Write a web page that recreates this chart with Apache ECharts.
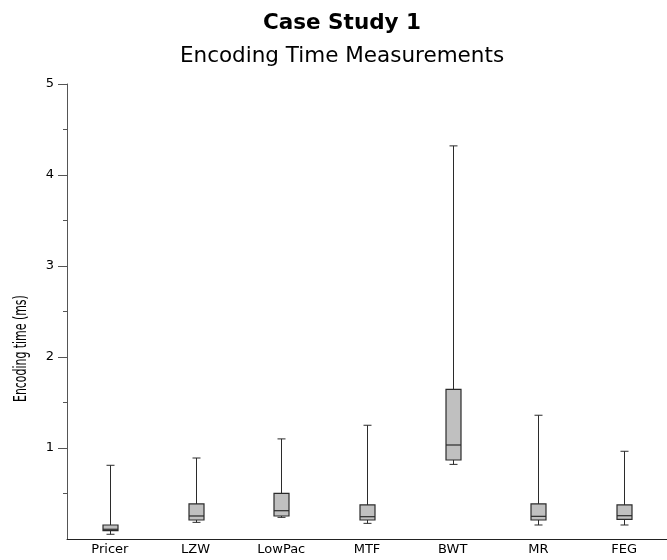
<!DOCTYPE html>
<html>
<head>
<meta charset="utf-8">
<title>Case Study 1 - Encoding Time Measurements</title>
<script src="https://cdn.jsdelivr.net/npm/echarts@6/dist/echarts.min.js"></script>
<style>
  html, body { margin: 0; padding: 0; background: #ffffff; }
  #chart { width: 667px; height: 560px; }
</style>
</head>
<body>
<div id="chart"></div>
<script>
// Encoding time per codec (ms): five-number summaries
const categories = ['Pricer', 'LZW', 'LowPac', 'MTF', 'BWT', 'MR', 'FEG'];
const whiskerLow  = [0.052, 0.183, 0.238, 0.172, 0.820, 0.154, 0.154];
const q1          = [0.092, 0.209, 0.253, 0.209, 0.868, 0.209, 0.216];
const median      = [0.107, 0.253, 0.311, 0.245, 1.033, 0.249, 0.256];
const q3          = [0.154, 0.385, 0.502, 0.374, 1.645, 0.385, 0.374];
const whiskerHigh = [0.810, 0.890, 1.100, 1.250, 4.320, 1.360, 0.964];
const yTicks = [0, 1, 2, 3, 4, 5];

const FONT = 'DejaVu Sans';
const BOX_W = 15;
const CAP_W = 8;

const rows = categories.map((c, i) => [i, whiskerLow[i], q1[i], median[i], q3[i], whiskerHigh[i]]);

function renderBox(params, api) {
  const idx = api.value(0);
  const pLow = api.coord([idx, api.value(1)]);
  const pQ1 = api.coord([idx, api.value(2)]);
  const pMed = api.coord([idx, api.value(3)]);
  const pQ3 = api.coord([idx, api.value(4)]);
  const pHigh = api.coord([idx, api.value(5)]);
  const x = Math.round(pMed[0]) + 0.5;
  const line = { stroke: '#2b2b2b', lineWidth: 1 };
  return {
    type: 'group',
    children: [
      { type: 'line', shape: { x1: x, y1: pHigh[1], x2: x, y2: pQ3[1] }, style: line },
      { type: 'line', shape: { x1: x, y1: pQ1[1], x2: x, y2: pLow[1] }, style: line },
      { type: 'line', shape: { x1: x - CAP_W / 2, y1: pHigh[1], x2: x + CAP_W / 2, y2: pHigh[1] }, style: line },
      { type: 'line', shape: { x1: x - CAP_W / 2, y1: pLow[1], x2: x + CAP_W / 2, y2: pLow[1] }, style: line },
      { type: 'rect', shape: { x: x - BOX_W / 2, y: pQ3[1], width: BOX_W, height: pQ1[1] - pQ3[1] },
        style: { fill: '#c0c0c0', stroke: '#2b2b2b', lineWidth: 1.2 } },
      { type: 'line', shape: { x1: x - BOX_W / 2, y1: pMed[1], x2: x + BOX_W / 2, y2: pMed[1] },
        style: { stroke: '#2b2b2b', lineWidth: 1.2 } }
    ]
  };
}

const chart = echarts.init(document.getElementById('chart'), null, { renderer: 'canvas' });
chart.setOption({
  animation: false,
  backgroundColor: '#ffffff',
  title: [
    { text: 'Case Study 1', left: 337, top: 7, textAlign: 'center',
      textStyle: { fontFamily: FONT, fontSize: 21.5, fontWeight: 'bold', color: '#000' } },
    { text: 'Encoding Time Measurements', left: 337, top: 40, textAlign: 'center',
      textStyle: { fontFamily: FONT, fontSize: 21.5, fontWeight: 'normal', color: '#000' } }
  ],
  graphic: [{
    type: 'text', x: 13, y: 402, rotation: Math.PI / 2, scaleX: 0.78, scaleY: 1.2,
    style: { text: 'Encoding time (ms)', font: '14px "DejaVu Sans"', fill: '#000', textAlign: 'left', textVerticalAlign: 'top' }
  }],
  grid: { left: 67, width: 610, top: 84, bottom: 21, containLabel: false },
  xAxis: {
    type: 'category',
    data: categories,
    axisLine: { lineStyle: { color: '#222', width: 1 } },
    axisTick: { show: false },
    axisLabel: { fontFamily: FONT, fontSize: 13, color: '#000', margin: 4 },
    splitLine: { show: false }
  },
  yAxis: {
    type: 'value',
    min: yTicks[0],
    max: yTicks[yTicks.length - 1],
    interval: 1,
    axisLine: { show: true, lineStyle: { color: '#555', width: 1 } },
    axisTick: { show: true, length: 9, lineStyle: { color: '#555' }, customValues: yTicks.slice(1) },
    minorTick: { show: true, splitNumber: 2, length: 4, lineStyle: { color: '#555' } },
    axisLabel: { fontFamily: FONT, fontSize: 13, color: '#000', margin: 13, showMinLabel: false },
    splitLine: { show: false }
  },
  series: [{
    type: 'custom',
    renderItem: renderBox,
    encode: { x: 0, y: [1, 2, 3, 4, 5] },
    data: rows,
    clip: false
  }]
});
</script>
</body>
</html>
